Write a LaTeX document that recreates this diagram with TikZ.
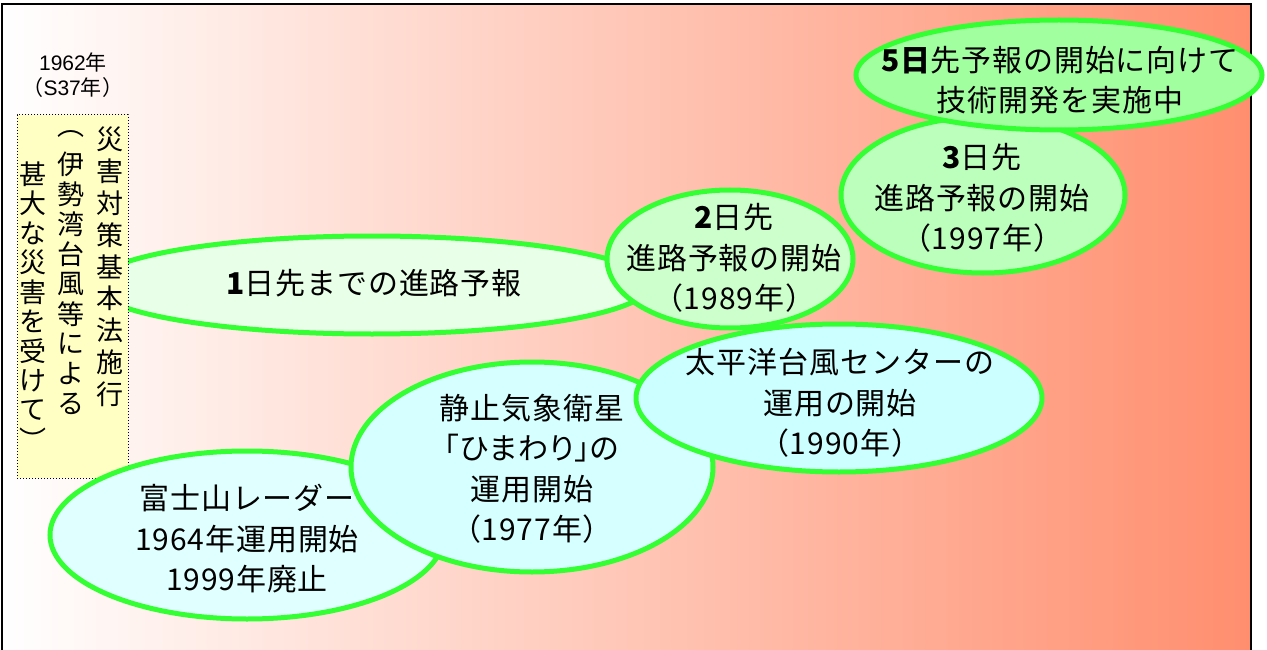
\documentclass[tikz,border=0pt]{standalone}
\usepackage{fontspec}
\setmainfont{Noto Sans CJK JP}[LetterSpace=3]
\newfontfamily\latinsf{Liberation Sans}
\usetikzlibrary{shapes.geometric}
\definecolor{bgR}{RGB}{255,142,110}
\definecolor{lineG}{RGB}{51,255,51}
\definecolor{gA}{RGB}{232,255,232}
\definecolor{gB}{RGB}{204,255,204}
\definecolor{gC}{RGB}{188,255,188}
\definecolor{gD}{RGB}{162,255,160}
\definecolor{cA}{RGB}{224,255,255}
\definecolor{cB}{RGB}{214,255,255}
\definecolor{cC}{RGB}{204,255,255}
\definecolor{yBox}{RGB}{255,255,196}
\tikzset{
  ell/.style={ellipse, draw=lineG, line width=5pt, inner sep=0pt, outer sep=0pt},
  txt/.style={align=center, inner sep=0pt, font=\fontsize{30}{40.5}\selectfont},
  small/.style={align=center, inner sep=0pt, font=\fontsize{21}{25}\selectfont},
  vch/.style={inner sep=0pt, font=\fontsize{27}{30}\selectfont},
  notebox/.style={rectangle, draw=black, dotted, line width=1pt, fill=yBox, inner sep=0pt}
}
\begin{document}
\begin{tikzpicture}[x=1pt,y=-1pt]
\useasboundingbox (0,0) rectangle (1267,650);
\begin{scope}
\clip (0,0) rectangle (1267,650);
\shade[left color=white, right color=bgR] (2,4) rectangle (1251,660);
\draw[line width=2pt] (2,660) -- (2,4) -- (1251,4) -- (1251,660);

% ellipses
\node[ell, fill=gA, minimum width=556, minimum height=98] (e1) at (372,285) {};
\node[notebox, minimum width=111, minimum height=363] (box) at (72.5,296.5) {};
\node[ell, fill=cA, minimum width=394, minimum height=168] (e5) at (247,535) {};
\node[ell, fill=cB, minimum width=362, minimum height=210] (e6) at (532,467) {};
\node[ell, fill=cC, minimum width=406, minimum height=148] (e7) at (839,398) {};
\node[ell, fill=gB, minimum width=246, minimum height=138] (e2) at (730,259) {};
\node[ell, fill=gC, minimum width=284, minimum height=156] (e3) at (983,195) {};
\node[ell, fill=gD, minimum width=406, minimum height=110] (e4) at (1059,75) {};
\end{scope}

% texts
\node[txt] (t1) at (374,283) {{\bfseries 1}日先までの進路予報};
\node[txt] (t2) at (734,258) {{\bfseries 2}日先\\進路予報の開始\\（1989年）};
\node[txt] (t3) at (982,198) {{\bfseries 3}日先\\進路予報の開始\\（1997年）};
\node[txt] (t4) at (1060,80) {{\bfseries 5日}先予報の開始に向けて\\技術開発を実施中};
\node[txt] (t5) at (247,539) {富士山レーダー\\1964年運用開始\\1999年廃止};
\node[txt] (t6) at (532,469) {静止気象衛星\\{\addfontfeatures{RawFeature=+palt}「ひまわり」}の\\運用開始\\（1977年）};
\node[txt] (t7) at (840,403) {太平洋台風センターの\\運用の開始\\（1990年）};

\node[small] (yr) at (73,75) {{\latinsf 1962}年\\（{\latinsf S37}年）};

% vertical text
\foreach \ch [count=\i] in {災,害,対,策,基,本,法,施,行}
  \node[vch] (a\i) at (110,{139+31.9*(\i-1)}) {\ch};
\foreach \ch [count=\i] in {︵,伊,勢,湾,台,風,等,に,よ,る}
  \node[vch] (b\i) at (71,{134+30*(\i-1)}) {\ch};
\foreach \ch [count=\i] in {甚,大,な,災,害,を,受,け,て,︶}
  \node[vch] (c\i) at (33,{174+29.5*(\i-1)}) {\ch};
\end{tikzpicture}
\end{document}
